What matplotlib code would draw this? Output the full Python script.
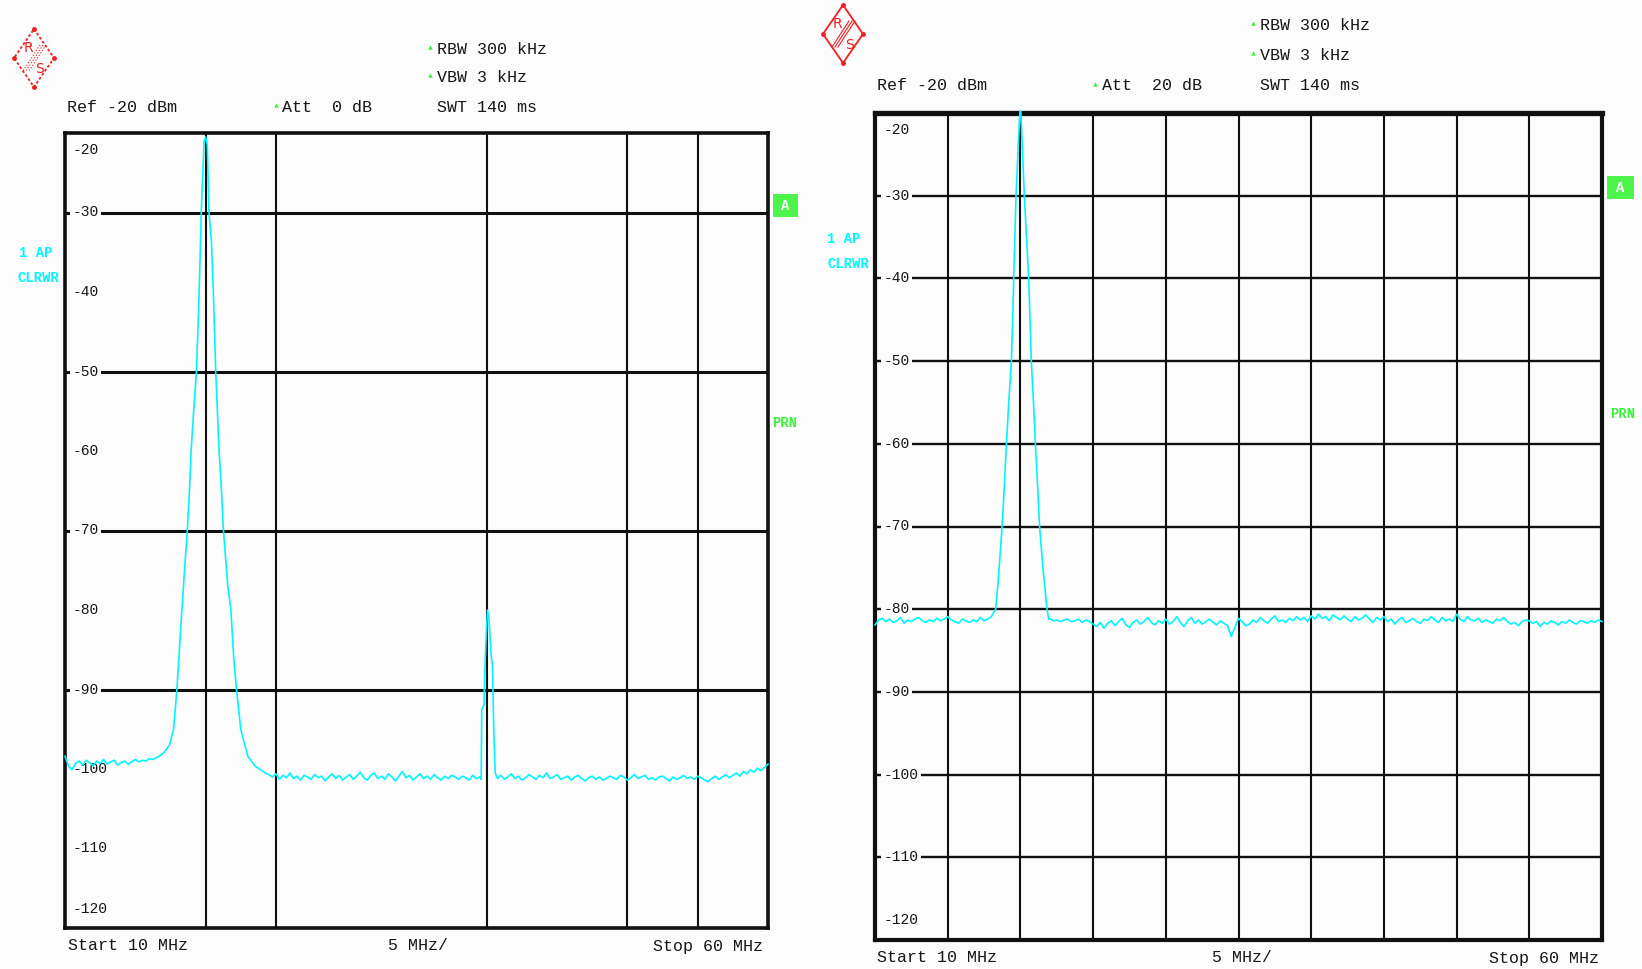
import numpy as np
import matplotlib
matplotlib.use('Agg')
import matplotlib.pyplot as plt
from matplotlib.patches import Polygon, Rectangle
from matplotlib.lines import Line2D
from matplotlib.transforms import blended_transform_factory

# ---------------- data ----------------
freq_start, freq_stop = 10.0, 60.0
ref_top, ref_bottom = -20, -120
y_values = [-20, -30, -40, -50, -60, -70, -80, -90, -100, -110, -120]
y_labels = ['-20', '-30', '-40', '-50', '-60', '-70', '-80', '-90', '-100', '-110', '-120']

# Left screenshot (trace levels in dBm)
l_pre = [-98.4, -99.6, -100.1, -99.3, -99.0, -99.5, -98.9, -99.2, -99.6, -99.0,
         -99.3, -98.8, -99.4, -99.1, -98.9, -99.5, -99.2, -99.0, -99.4, -99.1,
         -98.8, -99.1, -98.9, -99.0, -98.7, -98.8]
l_peak_f = [16.6, 17.0, 17.43, 17.72, 17.96, 18.1, 18.32, 18.5, 18.7, 18.85, 18.97,
            19.15, 19.35, 19.45, 19.54, 19.62, 19.69, 19.8, 19.9, 20.0, 20.12, 20.24,
            20.41, 20.55, 20.72, 20.84, 20.96, 21.1, 21.27, 21.58, 21.8, 22.0, 22.2,
            22.5, 23.0, 23.5, 24.0, 24.25]
l_peak_v = [-98.5, -98.0, -97.0, -95.0, -90.0, -86.0, -80.0, -75.0, -70.0, -65.0, -60.0,
            -55.0, -50.0, -45.0, -40.0, -35.0, -30.0, -25.0, -21.0, -20.5, -21.5, -30.0,
            -33.5, -40.0, -50.0, -55.0, -60.0, -64.0, -70.0, -77.0, -80.0, -86.0, -90.0,
            -95.0, -98.4, -99.6, -100.2, -100.5]
l_mid = [-100.7, -101.0, -100.6, -101.3, -100.8, -101.1, -100.5, -101.2, -100.9, -101.4,
         -100.8, -101.0, -101.3, -100.7, -101.1, -100.9, -101.5, -101.0, -100.6, -101.2,
         -100.8, -101.4, -101.0, -100.7, -101.3, -100.9, -100.4, -101.1, -101.4, -100.8,
         -100.5, -101.2, -100.9, -101.3, -100.6, -101.0, -101.5, -100.9, -100.3, -101.1,
         -100.8, -101.4, -101.0, -100.6, -101.2, -100.9, -101.3, -100.7, -101.1, -101.4,
         -100.9, -101.2, -100.8, -101.0, -101.3, -100.9, -101.1, -101.4, -100.8, -101.2,
         -101.0]
l_spur_f = [39.6, 39.64, 39.8, 39.85, 39.95, 40.05, 40.15, 40.3, 40.4, 40.5, 40.6]
l_spur_v = [-101.3, -92.5, -92.0, -88.0, -83.5, -80.0, -81.0, -85.5, -87.0, -95.5, -100.5]
l_post = [-101.2, -100.8, -101.3, -101.0, -100.6, -101.2, -100.9, -101.4, -101.1, -100.7,
          -101.0, -101.3, -100.8, -101.1, -100.5, -101.2, -101.0, -100.7, -101.3, -101.1,
          -100.9, -101.4, -101.0, -100.8, -101.2, -101.5, -101.1, -100.9, -101.3, -101.0,
          -101.4, -101.2, -100.9, -101.1, -101.3, -100.8, -101.0, -101.4, -101.1, -100.7,
          -101.2, -101.0, -100.8, -101.3, -101.1, -101.4, -101.0, -100.9, -101.2, -101.5,
          -101.0, -101.3, -101.1, -100.8, -101.2, -101.0, -101.3, -100.9, -101.1, -101.4,
          -101.6, -101.2, -100.9, -101.3, -101.0, -100.7, -101.1, -100.8, -100.5, -100.9,
          -100.3, -100.6, -100.1, -100.4, -99.9, -100.2, -99.8, -99.4]

# Right screenshot
r_pre = [-81.9, -81.3, -81.1, -81.5, -81.2, -81.6, -81.4, -81.0, -81.7, -81.3, -81.5,
         -81.2, -81.0, -81.4, -81.6, -81.3, -81.5, -81.1, -81.4, -81.2, -80.9, -81.3,
         -81.5, -81.7, -81.2, -81.4, -81.6, -81.3, -81.5, -81.0, -81.4, -81.2, -80.9]
r_peak_f = [18.3, 18.5, 18.74, 18.9, 19.04, 19.2, 19.38, 19.47, 19.54, 19.62, 19.7,
            19.85, 19.97, 20.03, 20.15, 20.27, 20.42, 20.57, 20.66, 20.75, 20.9, 21.03,
            21.18, 21.32, 21.55, 21.83, 21.95]
r_peak_v = [-80.0, -76.0, -70.0, -65.0, -60.0, -55.0, -50.0, -45.0, -40.0, -35.0, -30.0,
            -24.0, -19.8, -19.8, -25.0, -30.0, -35.0, -40.0, -45.0, -50.0, -55.0, -60.0,
            -65.0, -70.0, -75.0, -80.0, -81.2]
r_post = [-81.1, -81.4, -81.3, -81.5, -81.3, -81.2, -81.5, -81.4, -81.2, -81.6, -81.3, -81.5,
          -81.8, -82.1, -81.6, -82.3, -81.7, -81.4, -82.0, -81.5, -81.1, -81.9,
          -82.2, -81.6, -81.3, -81.8, -81.5, -81.0, -81.6, -81.9, -81.4, -81.7,
          -81.2, -81.8, -81.5, -80.9, -81.6, -82.1, -81.4, -81.0, -81.7, -81.3,
          -81.8, -81.5, -81.2, -81.6, -81.9, -81.4, -81.7, -82.0, -83.3, -82.2,
          -81.1, -81.5, -82.0, -81.8, -81.3, -81.6, -81.0, -81.4, -81.7, -81.2,
          -80.8, -81.5, -81.3, -81.6, -81.1, -81.4, -80.9, -81.3, -81.0, -81.5,
          -80.8, -81.2, -80.6, -81.1, -80.9, -81.4, -80.7, -81.0, -81.3, -80.8,
          -81.2, -81.5, -80.9, -81.3, -81.1, -80.7, -81.2, -81.6, -81.0, -81.3,
          -80.9, -81.5, -81.2, -81.8, -81.3, -81.0, -81.6, -81.4, -81.1, -81.5,
          -81.7, -81.2, -81.4, -80.9, -81.3, -81.6, -81.0, -81.4, -81.2, -81.5,
          -80.6, -81.2, -81.5, -80.9, -81.3, -81.4, -81.1, -81.6, -81.3, -81.5,
          -81.7, -81.2, -81.4, -81.0, -81.5, -81.8, -81.6, -82.0, -81.5, -81.3,
          -81.4, -81.7, -81.5, -82.1, -81.6, -81.8, -81.4, -81.6, -81.9, -81.5,
          -81.7, -81.3, -81.6, -81.8, -81.4, -81.5, -81.7, -81.4, -81.6, -81.3, -81.5]

left_vgrid = [20, 25, 40, 50, 55]
left_hgrid = [-30, -50, -70, -90]
right_vgrid = [15, 20, 25, 30, 35, 40, 45, 50, 55]
right_hgrid = [-30, -40, -50, -60, -70, -80, -90, -100, -110]

left_header = {'rbw': 'RBW 300 kHz', 'vbw': 'VBW 3 kHz', 'ref': 'Ref -20 dBm',
               'att': 'Att  0 dB', 'swt': 'SWT 140 ms'}
right_header = {'rbw': 'RBW 300 kHz', 'vbw': 'VBW 3 kHz', 'ref': 'Ref -20 dBm',
                'att': 'Att  20 dB', 'swt': 'SWT 140 ms'}
footer = ['Start 10 MHz', '5 MHz/', 'Stop 60 MHz']

# ---------------- drawing ----------------
W, H = 1642, 969
BG = '#fcfcfc'
CYAN = '#00f5ff'
GREEN = '#3cf03c'
RED = '#f02020'
TXT = '#161616'
MONO = 'Liberation Mono'

fig = plt.figure(figsize=(W / 100, H / 100), dpi=100, facecolor=BG)


def fx(x):
    return x / W


def fy(y):
    return 1 - y / H


def ftext(x, y, s, **kw):
    kw.setdefault('family', MONO)
    kw.setdefault('color', TXT)
    kw.setdefault('fontsize', 12)
    kw.setdefault('va', 'center')
    fig.text(fx(x), fy(y), s, **kw)


def panel(box, vgrid, hgrid, hlw, vlw, slw, toplw, label_dx, label_list, traces):
    x0, y0, x1, y1 = box
    ax = fig.add_axes([fx(x0), fy(y1), (x1 - x0) / W, (y1 - y0) / H])
    ax.set_facecolor(BG)
    ax.set_xlim(freq_start, freq_stop)
    ax.set_ylim(ref_bottom, ref_top)
    ax.set_xticks([])
    ax.set_yticks([])
    for s in ax.spines.values():
        s.set_linewidth(slw)
        s.set_color('#101010')
    ax.spines['top'].set_linewidth(toplw)
    for v in vgrid:
        ax.axvline(v, color='#101010', lw=vlw, zorder=2)
    for h in hgrid:
        ax.axhline(h, color='#101010', lw=hlw, zorder=2)
    tr = blended_transform_factory(ax.transAxes, ax.transData)
    for val, lab in zip(y_values, label_list):
        yy = val
        if val == ref_top:
            yy = val - 2.1
        elif val == ref_bottom:
            yy = val + 2.4
        ax.text(label_dx, yy, lab, transform=tr, family=MONO, fontsize=10.5,
                color=TXT, va='center', ha='left', zorder=3,
                bbox=dict(fc=BG, ec='none', pad=1.8))
    for f, v in traces:
        ax.plot(f, v, color=CYAN, lw=1.2, zorder=5, clip_on=False)
    return ax


def logo(cx, cy, dotted=False):
    hw, hh = 20, 29
    pts = [(cx, cy - hh), (cx + hw, cy), (cx, cy + hh), (cx - hw, cy)]
    fig.add_artist(Polygon([(fx(a), fy(b)) for a, b in pts], closed=True, fill=False,
                           ec=RED, lw=1.3, ls=(0, (1.5, 1.2)) if dotted else '-',
                           transform=fig.transFigure))
    for a, b in pts:
        fig.add_artist(Line2D([fx(a)], [fy(b)], marker='o', ms=2.5, color=RED,
                              transform=fig.transFigure))
    ftext(cx - 6, cy - 10, 'R', color=RED, fontsize=10, ha='center', family='DejaVu Sans')
    ftext(cx + 6, cy + 11, 'S', color=RED, fontsize=10, ha='center', family='DejaVu Sans')
    for d in (-3, 0, 3):
        fig.add_artist(Line2D([fx(cx + 9 + d), fx(cx - 8 + d)], [fy(cy - 13), fy(cy + 13)],
                              color=RED, lw=0.8, ls=':' if dotted else '-',
                              transform=fig.transFigure))


def marker(x, y):
    fig.add_artist(Line2D([fx(x)], [fy(y)], marker='^', ms=3.2, color=GREEN, mec='none',
                          transform=fig.transFigure))


def abox(x0, y0, x1, y1):
    fig.add_artist(Rectangle((fx(x0), fy(y1)), (x1 - x0) / W, (y1 - y0) / H,
                             fc='#4cf44c', ec='none', transform=fig.transFigure))
    ftext((x0 + x1) / 2, (y0 + y1) / 2, 'A', color='white', fontsize=10,
          ha='center', weight='bold')


# ---- left panel ----
left_traces = [
    (np.linspace(10.0, 16.25, len(l_pre)), l_pre),
    (l_peak_f, l_peak_v),
    (np.linspace(24.5, 39.5, len(l_mid)), l_mid),
    (l_spur_f, l_spur_v),
    (np.linspace(40.75, 60.0, len(l_post)), l_post),
]
lf = np.concatenate([np.asarray(f, float) for f, v in left_traces])
lv = np.concatenate([np.asarray(v, float) for f, v in left_traces])
panel((65, 133, 768, 928), left_vgrid, left_hgrid, hlw=2.2, vlw=1.5, slw=2.6, toplw=2.6,
      label_dx=0.011, label_list=y_labels, traces=[(lf, lv)])

# ---- right panel ----
rf = np.concatenate([np.linspace(10.0, 18.0, len(r_pre)), r_peak_f,
                     np.linspace(22.0, 60.0, len(r_post))])
rv = np.concatenate([r_pre, r_peak_v, r_post])
panel((875, 113, 1602, 940), right_vgrid, right_hgrid, hlw=1.7, vlw=1.5, slw=3.0, toplw=3.8,
      label_dx=0.012, label_list=y_labels, traces=[(rf, rv)])

# ---- headers left ----
logo(34, 58, dotted=True)
marker(430, 47)
ftext(437, 49, left_header['rbw'])
marker(430, 75)
ftext(437, 77, left_header['vbw'])
ftext(67, 108, left_header['ref'])
marker(276, 105)
ftext(282, 108, left_header['att'])
ftext(437, 108, left_header['swt'])
ftext(19, 253, '1 AP', color=CYAN, fontsize=10, weight='bold')
ftext(17, 278, 'CLRWR', color=CYAN, fontsize=10, weight='bold')
abox(773, 194, 798, 217)
ftext(772, 423, 'PRN', color=GREEN, fontsize=10, weight='bold')
ftext(68, 946, footer[0])
ftext(388, 946, footer[1])
ftext(763, 946, footer[2], ha='right')

# ---- headers right ----
logo(843, 34)
marker(1253, 23)
ftext(1260, 25, right_header['rbw'])
marker(1253, 53)
ftext(1260, 55, right_header['vbw'])
ftext(877, 86, right_header['ref'])
marker(1095, 84)
ftext(1102, 86, right_header['att'])
ftext(1260, 86, right_header['swt'])
ftext(827, 239, '1 AP', color=CYAN, fontsize=10, weight='bold')
ftext(827, 264, 'CLRWR', color=CYAN, fontsize=10, weight='bold')
abox(1607, 176, 1634, 199)
ftext(1610, 414, 'PRN', color=GREEN, fontsize=10, weight='bold')
ftext(877, 958, footer[0])
ftext(1212, 958, footer[1])
ftext(1599, 958, footer[2], ha='right')

fig.savefig('out.png', dpi=100, facecolor=BG)
